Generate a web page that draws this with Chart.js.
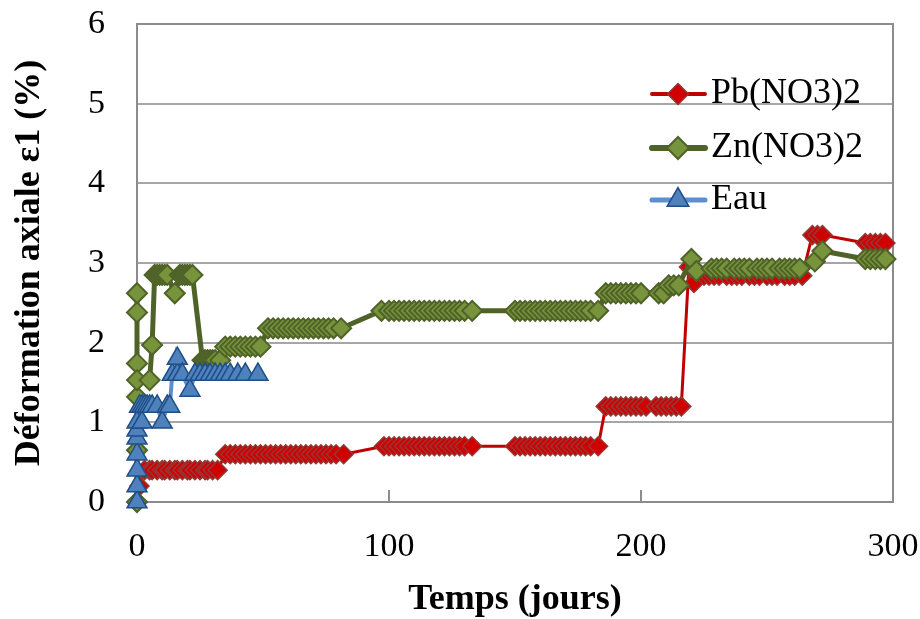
<!DOCTYPE html>
<html>
<head>
<meta charset="utf-8">
<script src="https://cdn.jsdelivr.net/npm/chart.js@4"></script>
<style>
  html, body { margin: 0; padding: 0; background: #fff; }
  #wrap { width: 920px; height: 619px; }
</style>
</head>
<body>
<div id="wrap"><canvas id="chart" width="920" height="619"></canvas></div>
<script>
// séries (jours, déformation %)
const seriesNames = ['Pb(NO3)2', 'Zn(NO3)2', 'Eau'];

const pbDays = [0, 1,
  3, 5, 6, 8, 10, 11, 13, 15, 16, 18, 20, 21, 23, 25, 27, 28, 30, 32,
  35, 37, 39, 41, 43, 45, 47, 49, 51, 53, 55, 57, 59, 61, 63, 65, 67, 69, 71, 73, 75, 77, 79, 82,
  98, 100, 102, 104, 106, 108, 110, 112, 114, 116, 118, 120, 122, 124, 126, 128, 130, 133,
  150, 152, 154, 156, 158, 160, 162, 164, 166, 168, 170, 172, 174, 176, 178, 180, 183,
  186, 188, 190, 192, 194, 196, 198, 200, 202, 206, 208, 210, 212, 214, 216,
  219, 221,
  225, 227, 229, 231, 234, 236, 238, 240, 243, 245, 247, 250, 252, 254, 257, 259, 261, 264,
  268, 270, 272,
  289, 291, 293, 295, 297];
const pbVals = [0, 0.2,
  0.4, 0.4, 0.4, 0.4, 0.4, 0.4, 0.4, 0.4, 0.4, 0.4, 0.4, 0.4, 0.4, 0.4, 0.4, 0.4, 0.4, 0.4,
  0.6, 0.6, 0.6, 0.6, 0.6, 0.6, 0.6, 0.6, 0.6, 0.6, 0.6, 0.6, 0.6, 0.6, 0.6, 0.6, 0.6, 0.6, 0.6, 0.6, 0.6, 0.6, 0.6, 0.6,
  0.7, 0.7, 0.7, 0.7, 0.7, 0.7, 0.7, 0.7, 0.7, 0.7, 0.7, 0.7, 0.7, 0.7, 0.7, 0.7, 0.7, 0.7,
  0.7, 0.7, 0.7, 0.7, 0.7, 0.7, 0.7, 0.7, 0.7, 0.7, 0.7, 0.7, 0.7, 0.7, 0.7, 0.7, 0.7,
  1.2, 1.2, 1.2, 1.2, 1.2, 1.2, 1.2, 1.2, 1.2, 1.2, 1.2, 1.2, 1.2, 1.2, 1.2,
  2.95, 2.75,
  2.84, 2.84, 2.84, 2.84, 2.84, 2.84, 2.84, 2.84, 2.84, 2.84, 2.84, 2.84, 2.84, 2.84, 2.84, 2.84, 2.84, 2.84,
  3.35, 3.35, 3.35,
  3.25, 3.25, 3.25, 3.25, 3.25];

const znDays = [0, 0, 0, 0, 0, 0, 0, 5, 6,
  7, 8, 9, 10, 11, 12, 15, 17, 18, 19, 20, 21, 22,
  26, 27, 28, 29, 30, 31, 33,
  35, 37, 39, 41, 43, 45, 47, 49,
  52, 54, 56, 58, 60, 62, 64, 66, 68, 70, 72, 74, 76, 78, 81,
  97, 100, 102, 104, 106, 108, 110, 112, 114, 116, 118, 120, 122, 124, 126, 128, 130, 133,
  150, 152, 154, 156, 158, 160, 162, 164, 166, 168, 170, 172, 174, 176, 178, 180, 183,
  186, 188, 190, 192, 194, 196, 198, 200, 207, 209, 211, 213, 215,
  220, 222,
  228, 230, 232, 234, 237, 239, 241, 243, 246, 248, 250, 252, 255, 257, 259, 261, 263,
  269, 272,
  289, 291, 293, 295, 297];
const znVals = [0, 0.65, 1.32, 2.62, 2.38, 1.74, 1.53, 1.53, 1.97,
  2.85, 2.85, 2.85, 2.85, 2.85, 2.85, 2.62, 2.85, 2.85, 2.85, 2.85, 2.85, 2.85,
  1.78, 1.78, 1.78, 1.78, 1.78, 1.78, 1.78,
  1.95, 1.95, 1.95, 1.95, 1.95, 1.95, 1.95, 1.95,
  2.18, 2.18, 2.18, 2.18, 2.18, 2.18, 2.18, 2.18, 2.18, 2.18, 2.18, 2.18, 2.18, 2.18, 2.18,
  2.4, 2.4, 2.4, 2.4, 2.4, 2.4, 2.4, 2.4, 2.4, 2.4, 2.4, 2.4, 2.4, 2.4, 2.4, 2.4, 2.4, 2.4,
  2.4, 2.4, 2.4, 2.4, 2.4, 2.4, 2.4, 2.4, 2.4, 2.4, 2.4, 2.4, 2.4, 2.4, 2.4, 2.4, 2.4,
  2.62, 2.62, 2.62, 2.62, 2.62, 2.62, 2.62, 2.62, 2.62, 2.62, 2.72, 2.72, 2.72,
  3.05, 2.9,
  2.93, 2.93, 2.93, 2.93, 2.93, 2.93, 2.93, 2.93, 2.93, 2.93, 2.93, 2.93, 2.93, 2.93, 2.93, 2.93, 2.93,
  3.02, 3.15,
  3.05, 3.05, 3.05, 3.05, 3.05];

const eauDays = [0, 0, 0, 0, 0, 0, 0, 1, 2, 2, 3, 4, 5, 6, 8, 10, 12, 13,
  14, 16, 16, 18, 21, 23, 25, 27, 29, 31, 33, 35, 37, 40, 43, 48];
const eauVals = [0, 0.2, 0.4, 0.6, 0.8, 0.9, 1.0, 1.2, 1.0, 1.2, 1.2, 1.2, 1.2, 1.2, 1.2, 1.0, 1.2, 1.2,
  1.6, 1.6, 1.8, 1.6, 1.4, 1.6, 1.6, 1.6, 1.6, 1.6, 1.6, 1.6, 1.6, 1.6, 1.6, 1.6];

const xTicks = [0, 100, 200, 300];
const yTicks = [0, 1, 2, 3, 4, 5, 6];

const toPts = (xs, ys) => xs.map((x, i) => ({ x: x, y: ys[i] }));

const styles = [
  { line: '#C00000', fill: '#D00000', edge: '#953735', shape: 'rectRot', r: 9.5, lw: 3, bw: 1.5 },
  { line: '#4F6228', fill: '#77933C', edge: '#4F6228', shape: 'rectRot', r: 10, lw: 5, bw: 2 },
  { line: '#5B8FD0', fill: '#4F81BD', edge: '#1F4E86', shape: 'triangle', r: 11.5, lw: 4, bw: 1.5 }
];

const allData = [toPts(pbDays, pbVals), toPts(znDays, znVals), toPts(eauDays, eauVals)];

const datasets = allData.map((pts, i) => ({
  label: seriesNames[i],
  data: pts,
  showLine: true,
  tension: 0,
  borderColor: styles[i].line,
  borderWidth: styles[i].lw,
  pointStyle: styles[i].shape,
  pointRadius: styles[i].r,
  pointBackgroundColor: styles[i].fill,
  pointBorderColor: styles[i].edge,
  pointBorderWidth: styles[i].bw,
  clip: false,
  order: 3 - i
}));

// cadre gris + petites graduations vers l'intérieur
const frame = {
  id: 'frame',
  beforeDatasetsDraw(chart) {
    const { ctx, chartArea: a, scales } = chart;
    ctx.save();
    ctx.strokeStyle = '#8C8C8C';
    ctx.lineWidth = 2;
    ctx.strokeRect(a.left, a.top, a.right - a.left, a.bottom - a.top);
    xTicks.forEach(v => {
      const px = scales.x.getPixelForValue(v);
      ctx.beginPath();
      ctx.moveTo(px, a.bottom);
      ctx.lineTo(px, a.bottom - 12);
      ctx.stroke();
    });
    ctx.restore();
  }
};

// légende à l'intérieur, en haut à droite
const legendBox = {
  id: 'legendBox',
  afterDraw(chart) {
    const ctx = chart.ctx;
    const rowsY = [94, 148, 200];
    ctx.save();
    seriesNames.forEach((name, i) => {
      const s = styles[i];
      const y = rowsY[i];
      ctx.strokeStyle = s.line;
      ctx.lineWidth = s.lw + 1;
      ctx.lineCap = 'round';
      ctx.beginPath();
      ctx.moveTo(652, y);
      ctx.lineTo(705, y);
      ctx.stroke();
      ctx.fillStyle = s.fill;
      ctx.strokeStyle = s.edge;
      ctx.lineWidth = s.bw;
      Chart.helpers.drawPoint(ctx, { pointStyle: s.shape, radius: s.r + 1, borderWidth: s.bw }, 678, y);
      ctx.fillStyle = '#000';
      ctx.font = '36px "Liberation Serif"';
      ctx.textBaseline = 'middle';
      ctx.textAlign = 'left';
      ctx.fillText(name, 711, y);
    });
    ctx.restore();
  }
};

new Chart(document.getElementById('chart'), {
  type: 'scatter',
  data: { datasets: datasets },
  options: {
    responsive: false,
    animation: false,
    layout: { padding: { top: 24, right: 27, left: 0, bottom: 0 } },
    plugins: { legend: { display: false }, tooltip: { enabled: false } },
    scales: {
      x: {
        type: 'linear',
        min: 0, max: 300,
        afterBuildTicks: s => { s.ticks = xTicks.map(v => ({ value: v })); },
        afterFit: s => { s.height = 117; s.paddingLeft = 0; s.paddingRight = 0; },
        grid: { display: false, drawTicks: false },
        border: { display: false },
        ticks: { padding: 25, color: '#000', font: { family: 'Liberation Serif', size: 34 } },
        title: {
          display: true, text: 'Temps (jours)', color: '#000',
          font: { family: 'Liberation Serif', size: 36, weight: 'bold' },
          padding: { top: 0, bottom: -2 }
        }
      },
      y: {
        min: 0, max: 6,
        afterBuildTicks: s => { s.ticks = yTicks.map(v => ({ value: v })); },
        afterFit: s => { s.width = 137; s.paddingTop = 0; s.paddingBottom = 0; },
        grid: { color: '#A6A6A6', lineWidth: 2, drawTicks: false },
        border: { display: false },
        ticks: { padding: 32, color: '#000', font: { family: 'Liberation Serif', size: 34 } },
        title: {
          display: true, text: 'Déformation axiale ε1 (%)', color: '#000',
          font: { family: 'Liberation Serif', size: 36, weight: 'bold' },
          padding: { top: 8, bottom: 0 }
        }
      }
    }
  },
  plugins: [frame, legendBox]
});
</script>
</body>
</html>
